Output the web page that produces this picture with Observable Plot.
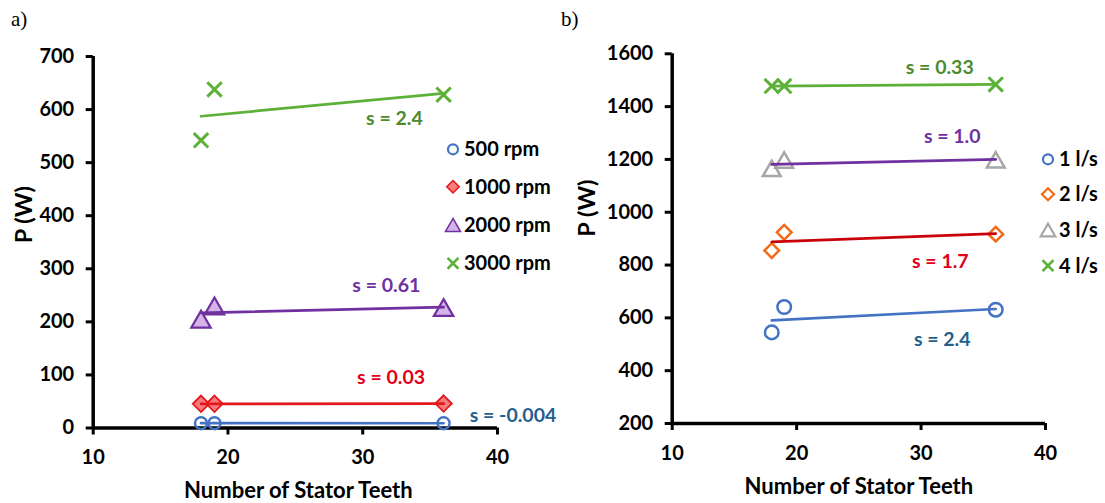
<!DOCTYPE html>
<html><head><meta charset="utf-8">
<script src="https://cdn.jsdelivr.net/npm/d3@7"></script>
<script src="https://cdn.jsdelivr.net/npm/@observablehq/plot@0.6"></script>
<style>
html,body{margin:0;padding:0;background:#fff;}
#wrap{position:relative;width:1105px;height:503px;overflow:hidden;background:#fff;}
.panel{position:absolute;top:0;}
.plab{position:absolute;font-family:"Liberation Serif","Times New Roman",serif;font-size:21px;line-height:21px;color:#000;}
</style></head><body>
<div id="wrap">
  <div class="panel" id="pa" style="left:0px"></div>
  <div class="panel" id="pb" style="left:552px"></div>
  <div class="plab" style="left:11px;top:9px">a)</div>
  <div class="plab" style="left:561px;top:9px">b)</div>
</div>
<script>
// ---------- data ----------
const teeth = [18, 19, 36];
const xTicks = [10, 20, 30, 40];

// panel a) : power vs teeth at several speeds
const rpmNames = ["500 rpm", "1000 rpm", "2000 rpm", "3000 rpm"];
const p500 = [9.06, 9.06, 8.99];
const p1000 = [45.5, 45.5, 46.0];
const p2000 = [205, 230, 227];
const p3000 = [542, 638, 628];
const slopesA = ["s = -0.004", "s = 0.03", "s = 0.61", "s = 2.4"];
const yTicksA = [0, 100, 200, 300, 400, 500, 600, 700];

// panel b) : power vs teeth at several flow rates
const flowNames = ["1 l/s", "2 l/s", "3 l/s", "4 l/s"];
const q1 = [545, 641, 631];
const q2 = [855, 924, 917];
const q3 = [1166, 1198, 1199];
const q4 = [1478, 1478, 1484];
const slopesB = ["s = 2.4", "s = 1.7", "s = 1.0", "s = 0.33"];
const yTicksB = [200, 400, 600, 800, 1000, 1200, 1400, 1600];

const xTitle = "Number of Stator Teeth";
const yTitle = "P (W)";

// ---------- styles ----------
const BLUE = "#4472c4", RED = "#e3161b", PURPLE = "#7030a0", GREEN = "#5db138";
const stylesA = [
  {values: p500, symbol: "circle", r: 6, stroke: BLUE, fill: "none", sw: 2.4, line: BLUE, lx: 41.15, ly: 23.6, lc: "#235f8e", lr: 5},
  {values: p1000, symbol: "diamond2", r: 7.4, stroke: RED, fill: "#f47c7c", sw: 1.8, line: RED, lx: 32.1, ly: 93.8, lc: "#e0001a", lr: 5.6},
  {values: p2000, symbol: "triangle", r: 7.2, stroke: PURPLE, fill: "#d4b4e8", sw: 2.2, line: PURPLE, lx: 31.75, ly: 268.5, lc: PURPLE, lr: 5.6},
  {values: p3000, symbol: "times", r: 6.6, stroke: GREEN, fill: "none", sw: 3, line: GREEN, lx: 32.35, ly: 583, lc: "#4e8a2e", lr: 5}
];
const stylesB = [
  {values: q1, symbol: "circle", r: 6.8, stroke: BLUE, fill: "none", sw: 2.5, line: BLUE, lx: 31.7, ly: 518, lc: "#235f8e", lr: 5},
  {values: q2, symbol: "diamond2", r: 6.6, stroke: "#f36a17", fill: "none", sw: 2.5, line: "#c8000a", lx: 31.55, ly: 812, lc: "#e0001a", lr: 5.4},
  {values: q3, symbol: "triangle", r: 6.6, stroke: "#a6a6a6", fill: "none", sw: 2.5, line: PURPLE, lx: 32.5, ly: 1287, lc: PURPLE, lr: 5.4},
  {values: q4, symbol: "times", r: 6.6, stroke: GREEN, fill: "none", sw: 3, line: GREEN, lx: 31.5, ly: 1549, lc: "#4e8a2e", lr: 5}
];
const symMap = {circle: d3.symbolCircle, diamond2: d3.symbolDiamond2, triangle: d3.symbolTriangle, times: d3.symbolTimes};

function makePanel(o) {
  const marks = [];
  // axes
  marks.push(Plot.axisX({ticks: xTicks, tickSize: 7, tickPadding: 15, strokeWidth: 3, label: null, tickFormat: d3.format("d")}));
  marks.push(Plot.axisY({ticks: o.yTicks, tickSize: 7, tickPadding: 12, strokeWidth: 3, label: null, tickFormat: d3.format("d")}));
  marks.push(Plot.ruleX([xTicks[0]], {strokeWidth: 3.5, stroke: "#000"}));
  marks.push(Plot.ruleY([o.yDomain[0]], {strokeWidth: 3.5, stroke: "#000"}));
  // series markers
  o.styles.forEach((s) => {
    const rows = teeth.map((t, j) => ({teeth: t, power: s.values[j]}));
    const dy = s.symbol === "triangle" ? 0.39 * s.r : 0;
    marks.push(Plot.dot(rows, {x: "teeth", y: "power", symbol: s.symbol, r: s.r, stroke: s.stroke, fill: s.fill, strokeWidth: s.sw, dy}));
  });
  // trend lines and slope labels
  o.styles.forEach((s, i) => {
    const rows = teeth.map((t, j) => ({teeth: t, power: s.values[j]}));
    marks.push(Plot.linearRegressionY(rows, {x: "teeth", y: "power", stroke: s.line, strokeWidth: 2.7, ci: 0}));
    marks.push(Plot.text([{x: s.lx, y: s.ly, t: o.slopes[i]}], {x: "x", y: "y", text: "t", fill: s.lc, fontSize: 19.5, lineAnchor: "middle"}));
  });
  // titles
  marks.push(Plot.text([xTitle], {text: d => d, frameAnchor: "bottom", dy: o.xTitleDy, dx: o.xTitleDx, fontSize: 22, lineAnchor: "middle"}));
  marks.push(Plot.text([yTitle], {text: d => d, frameAnchor: "left", dx: o.yTitleDx, dy: o.yTitleDy, rotate: -90, fontSize: 23.5, lineAnchor: "middle"}));

  const plot = Plot.plot({
    width: o.width, height: 503,
    marginLeft: o.ml, marginRight: o.mr, marginTop: o.mt, marginBottom: o.mb,
    x: {domain: [10, 40]},
    y: {domain: o.yDomain},
    style: {fontFamily: "Lato, 'Open Sans', sans-serif", fontWeight: "bold", fontSize: "20px", color: "#000", background: "transparent", overflow: "visible"},
    marks
  });
  // legend
  const g = d3.select(plot).append("g").attr("text-anchor", "start");
  o.styles.forEach((s, i) => {
    const y = o.legendRows[i];
    const dy = s.symbol === "triangle" ? 0.39 * s.lr : 0;
    g.append("path")
      .attr("transform", `translate(${o.legendX},${y + dy})`)
      .attr("d", d3.symbol(symMap[s.symbol], Math.PI * s.lr * s.lr)())
      .attr("fill", s.fill).attr("stroke", s.stroke)
      .attr("stroke-width", s.symbol === "times" ? 2.6 : (s.fill === "none" ? 2.2 : 1.5));
    g.append("text")
      .attr("x", o.legendX + 11).attr("y", y).attr("dy", "0.35em")
      .attr("text-anchor", "start")
      .attr("font-size", 20).attr("fill", "#000")
      .text(o.names[i]);
  });
  return plot;
}

document.getElementById("pa").appendChild(makePanel({
  width: 552, ml: 92.7, mr: 55, mt: 56, mb: 75.5,
  yDomain: [0, 700], yTicks: yTicksA, styles: stylesA, slopes: slopesA, names: rpmNames,
  xTitleDy: 63, xTitleDx: 3, yTitleDx: -69, yTitleDy: 1,
  legendX: 453, legendRows: [149.3, 186.7, 225, 263.3]
}));
document.getElementById("pb").appendChild(makePanel({
  width: 553, ml: 119.7, mr: 60, mt: 53.3, mb: 80,
  yDomain: [200, 1600], yTicks: yTicksB, styles: stylesB, slopes: slopesB, names: flowNames,
  xTitleDy: 63, xTitleDx: 0, yTitleDx: -85, yTitleDy: -2,
  legendX: 496, legendRows: [159.3, 194.3, 230, 265.7]
}));
</script>
</body></html>
